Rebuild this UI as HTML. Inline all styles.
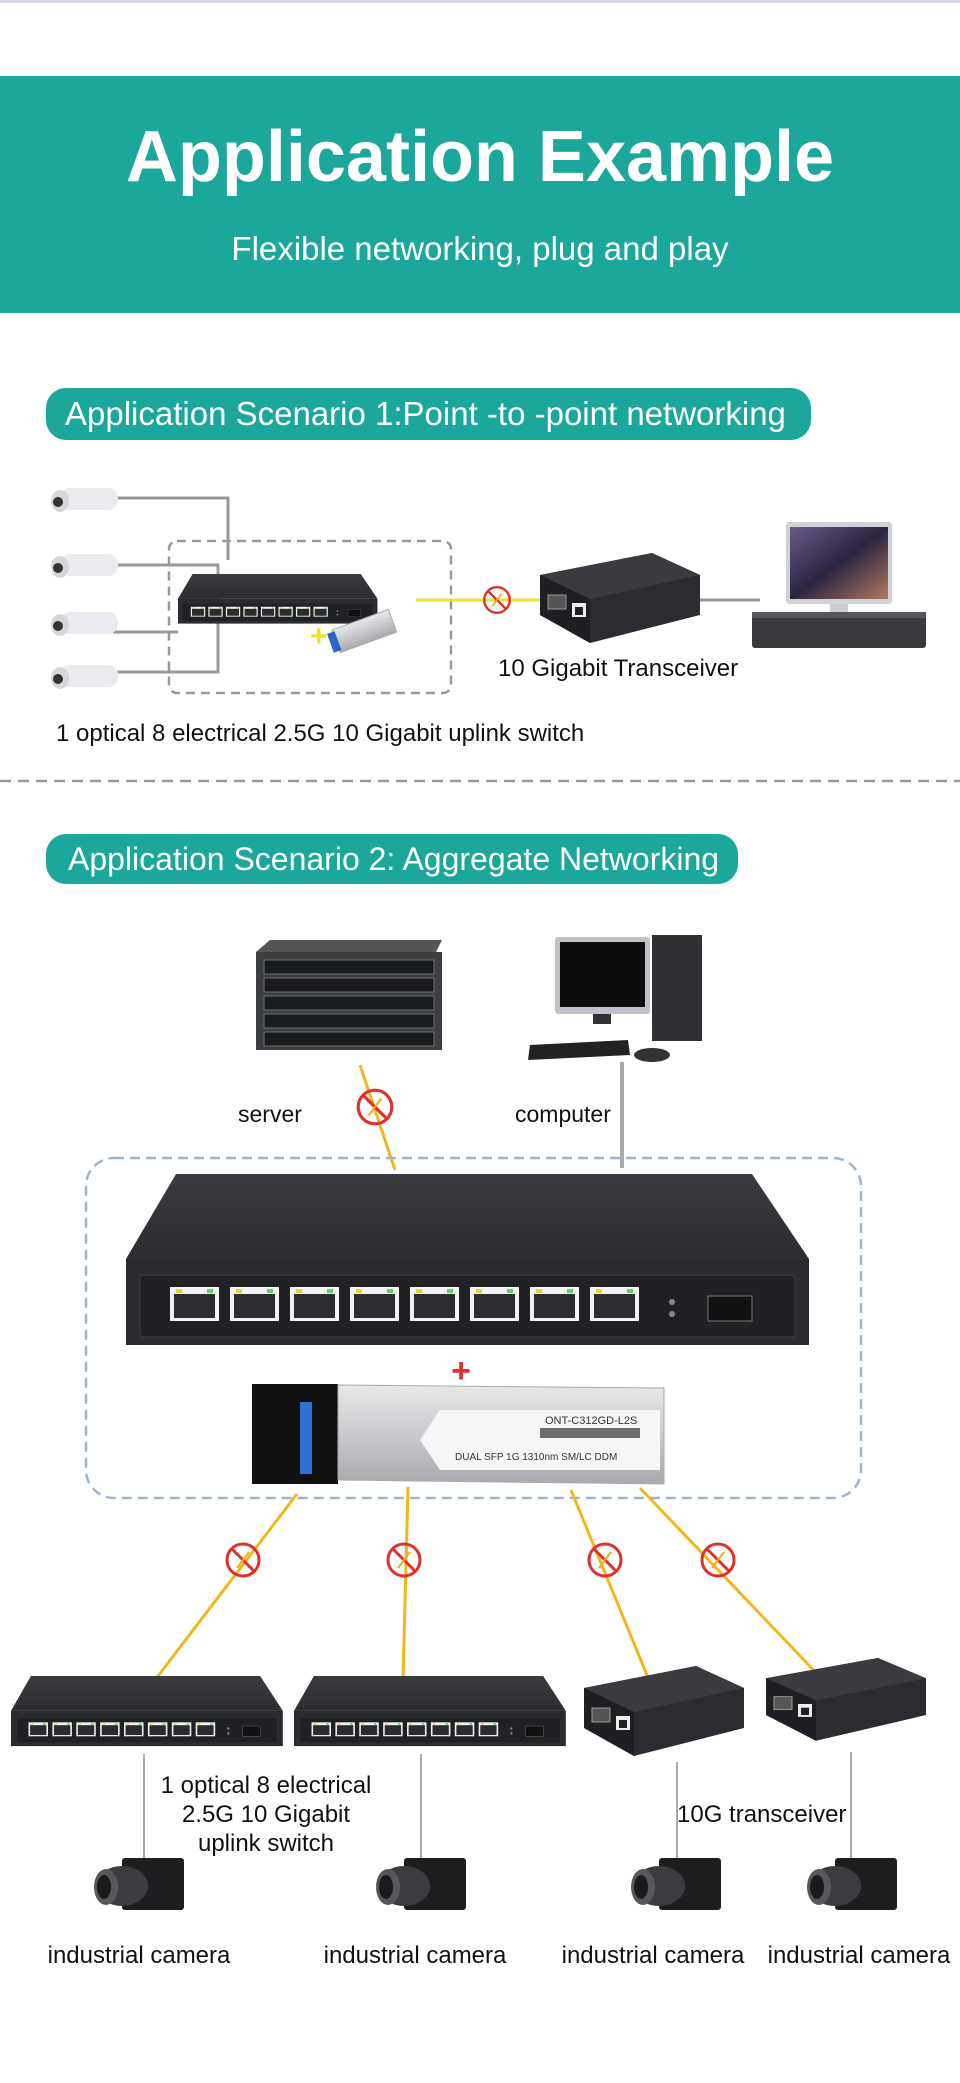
<!DOCTYPE html>
<html><head><meta charset="utf-8"><style>
html,body{margin:0;padding:0;background:#fff;}
body{width:960px;height:2083px;overflow:hidden;position:relative;font-family:"Liberation Sans",Arial,sans-serif;}
svg{position:absolute;left:0;top:0;}
</style></head><body>
<svg width="960" height="2083" viewBox="0 0 960 2083" xmlns="http://www.w3.org/2000/svg" font-family="Liberation Sans, Arial, sans-serif">
<defs>
<linearGradient id="topg" x1="0" y1="0" x2="0" y2="1"><stop offset="0" stop-color="#3a3b3e"/><stop offset="1" stop-color="#2c2d30"/></linearGradient>
<linearGradient id="scr" x1="0" y1="0" x2="1" y2="1"><stop offset="0" stop-color="#6a5a8a"/><stop offset="0.5" stop-color="#2a2440"/><stop offset="1" stop-color="#b07a60"/></linearGradient>
<linearGradient id="sfpg" x1="0" y1="0" x2="0" y2="1"><stop offset="0" stop-color="#e8e8ea"/><stop offset="0.5" stop-color="#c9cacd"/><stop offset="1" stop-color="#a9aaad"/></linearGradient>
<g id="sw">
  <polygon points="50,0 626,0 683,85 0,85" fill="url(#topg)"/>
  <rect x="0" y="85" width="683" height="86" fill="#2a2b2e"/>
  <rect x="14" y="101" width="655" height="62" rx="3" fill="#202124" stroke="#3c3d40"/>
  <g fill="#f2f2f2">
    <rect x="44" y="113" width="49" height="34"/><rect x="104" y="113" width="49" height="34"/><rect x="164" y="113" width="49" height="34"/><rect x="224" y="113" width="49" height="34"/>
    <rect x="284" y="113" width="49" height="34"/><rect x="344" y="113" width="49" height="34"/><rect x="404" y="113" width="49" height="34"/><rect x="464" y="113" width="49" height="34"/>
  </g>
  <g fill="#2b2c2f">
    <rect x="48" y="120" width="41" height="24"/><rect x="108" y="120" width="41" height="24"/><rect x="168" y="120" width="41" height="24"/><rect x="228" y="120" width="41" height="24"/>
    <rect x="288" y="120" width="41" height="24"/><rect x="348" y="120" width="41" height="24"/><rect x="408" y="120" width="41" height="24"/><rect x="468" y="120" width="41" height="24"/>
  </g>
  <g fill="#e8d23a"><rect x="50" y="115" width="6" height="4"/><rect x="110" y="115" width="6" height="4"/><rect x="170" y="115" width="6" height="4"/><rect x="230" y="115" width="6" height="4"/><rect x="290" y="115" width="6" height="4"/><rect x="350" y="115" width="6" height="4"/><rect x="410" y="115" width="6" height="4"/><rect x="470" y="115" width="6" height="4"/></g>
  <g fill="#5fd36a"><rect x="81" y="115" width="6" height="4"/><rect x="141" y="115" width="6" height="4"/><rect x="201" y="115" width="6" height="4"/><rect x="261" y="115" width="6" height="4"/><rect x="321" y="115" width="6" height="4"/><rect x="381" y="115" width="6" height="4"/><rect x="441" y="115" width="6" height="4"/><rect x="501" y="115" width="6" height="4"/></g>
  <circle cx="546" cy="128" r="3" fill="#888"/><circle cx="546" cy="140" r="3" fill="#888"/>
  <rect x="582" y="122" width="44" height="25" fill="#111" stroke="#777"/>
</g>
<g id="mc">
  <polygon points="0,22 112,0 160,22 160,62 50,90 0,62" fill="#2b2c2f"/>
  <polygon points="0,22 112,0 160,22 50,46" fill="#3a3b3f"/>
  <polygon points="0,22 50,46 50,90 0,62" fill="#1e1f22"/>
  <rect x="8" y="42" width="18" height="14" fill="#555" stroke="#999"/>
  <rect x="32" y="50" width="14" height="14" fill="#eee"/>
  <rect x="35" y="54" width="8" height="8" fill="#222"/>
</g>
<g id="cam">
  <rect x="28" y="0" width="62" height="52" rx="3" fill="#1d1e20"/>
  <ellipse cx="28" cy="28" rx="26" ry="20" fill="#3b3c3f"/>
  <ellipse cx="12" cy="29" rx="12" ry="18" fill="#55575a"/>
  <ellipse cx="10" cy="29" rx="7" ry="12" fill="#1a1a1a"/>
</g>
<g id="no">
  <circle cx="0" cy="0" r="16" fill="none" stroke="#e0302a" stroke-width="3"/>
  <line x1="-11" y1="-11" x2="11" y2="11" stroke="#e0302a" stroke-width="3"/>
  <line x1="-6" y1="8" x2="6" y2="-8" stroke="#e8b020" stroke-width="2"/>
</g>
<g id="ipc">
  <rect x="10" y="0" width="58" height="22" rx="10" fill="#e9ebee"/>
  <ellipse cx="10" cy="13" rx="9" ry="11" fill="#d5d7da"/>
  <circle cx="8" cy="14" r="5" fill="#333"/>
</g>
</defs>

<rect x="0" y="0" width="960" height="3" fill="#d4d8e0"/>
<rect x="0" y="76" width="960" height="237" fill="#1ca79d"/>
<text x="480" y="181" text-anchor="middle" font-size="72" font-weight="bold" fill="#fff">Application Example</text>
<text x="480" y="260" text-anchor="middle" font-size="33" fill="#fff">Flexible networking, plug and play</text>

<rect x="46" y="388" width="765" height="52" rx="20" fill="#1ca79d"/>
<text x="65" y="425" font-size="33" fill="#fff">Application Scenario 1:Point -to -point networking</text>

<g stroke="#999" stroke-width="3" fill="none">
  <polyline points="113,498 228,498 228,560"/>
  <polyline points="113,565 218,565 218,600 178,600"/>
  <polyline points="113,632 178,632"/>
  <polyline points="113,672 218,672 218,620"/>
</g>
<rect x="169" y="541" width="282" height="152" rx="8" fill="none" stroke="#999" stroke-width="2.5" stroke-dasharray="9,6"/>
<use href="#ipc" x="50" y="488"/>
<use href="#ipc" x="50" y="554"/>
<use href="#ipc" x="50" y="612"/>
<use href="#ipc" x="50" y="665"/>
<use href="#sw" transform="translate(178,574) scale(0.292,0.29)"/>
<g transform="translate(332,630) rotate(-20)">
  <rect x="0" y="0" width="60" height="24" fill="url(#sfpg)" stroke="#aaa"/>
  <rect x="-6" y="2" width="8" height="20" fill="#2a66c8"/>
</g>
<text x="310" y="646" font-size="30" fill="#f2e020" font-weight="bold">+</text>
<line x1="416" y1="600" x2="540" y2="600" stroke="#f0e030" stroke-width="3"/>
<use href="#no" transform="translate(497,600) scale(0.8)"/>
<line x1="690" y1="600" x2="760" y2="600" stroke="#999" stroke-width="3"/>
<use href="#mc" transform="translate(540,553)"/>
<rect x="786" y="522" width="106" height="82" rx="3" fill="#cfd2d6"/>
<rect x="790" y="527" width="98" height="72" fill="url(#scr)"/>
<rect x="830" y="604" width="18" height="10" fill="#ccc"/>
<rect x="752" y="612" width="174" height="36" rx="3" fill="#3a3b3e"/>
<rect x="752" y="612" width="174" height="6" fill="#55575b"/>
<text x="498" y="676" font-size="24" fill="#111">10 Gigabit Transceiver</text>
<text x="56" y="741" font-size="24" fill="#111">1 optical 8 electrical 2.5G 10 Gigabit uplink switch</text>

<line x1="0" y1="781" x2="960" y2="781" stroke="#999" stroke-width="2.5" stroke-dasharray="11,7"/>

<rect x="46" y="834" width="692" height="50" rx="20" fill="#1ca79d"/>
<text x="68" y="870" font-size="32" fill="#fff">Application Scenario 2: Aggregate Networking</text>

<polygon points="270,940 442,940 436,952 256,952" fill="#555"/>
<rect x="256" y="952" width="186" height="98" fill="#3c3e42"/>
<g fill="#1a1b1d" stroke="#6a6d72">
  <rect x="264" y="960" width="170" height="14"/><rect x="264" y="978" width="170" height="14"/><rect x="264" y="996" width="170" height="14"/><rect x="264" y="1014" width="170" height="14"/><rect x="264" y="1032" width="170" height="14"/>
</g>
<rect x="555" y="937" width="95" height="77" rx="3" fill="#bfc2c6"/>
<rect x="560" y="942" width="85" height="65" fill="#0d0d0e"/>
<rect x="593" y="1014" width="18" height="10" fill="#333"/>
<rect x="652" y="935" width="50" height="106" fill="#2f3033"/>
<polygon points="530,1045 628,1040 630,1055 528,1060" fill="#222"/>
<ellipse cx="652" cy="1055" rx="18" ry="7" fill="#333"/>
<text x="238" y="1122" font-size="23" fill="#111">server</text>
<text x="515" y="1122" font-size="23" fill="#111">computer</text>
<line x1="360" y1="1065" x2="395" y2="1170" stroke="#f0b81c" stroke-width="3"/>
<use href="#no" transform="translate(375,1107) scale(1.05)"/>
<line x1="622" y1="1062" x2="622" y2="1168" stroke="#aaa" stroke-width="4"/>

<rect x="86" y="1158" width="775" height="340" rx="28" fill="none" stroke="#9fb4d4" stroke-width="2.5" stroke-dasharray="10,6"/>
<use href="#sw" transform="translate(126,1174)"/>
<text x="461" y="1382" text-anchor="middle" font-size="34" font-weight="bold" fill="#e0302a">+</text>
<rect x="252" y="1384" width="86" height="100" fill="#111"/>
<rect x="300" y="1402" width="12" height="72" fill="#2f72d4"/>
<polygon points="338,1385 664,1388 664,1484 338,1480" fill="url(#sfpg)" stroke="#aaa"/>
<polygon points="440,1410 660,1410 660,1470 440,1470 420,1440" fill="#f6f6f6"/>
<text x="545" y="1424" font-size="11" fill="#333">ONT-C312GD-L2S</text>
<rect x="540" y="1428" width="100" height="10" fill="#333" opacity="0.7"/>
<text x="455" y="1460" font-size="10" fill="#333">DUAL SFP   1G 1310nm SM/LC DDM</text>

<g stroke="#f0b81c" stroke-width="3">
  <line x1="297" y1="1494" x2="155" y2="1680"/>
  <line x1="408" y1="1487" x2="403" y2="1680"/>
  <line x1="571" y1="1490" x2="649" y2="1680"/>
  <line x1="640" y1="1488" x2="823" y2="1680"/>
</g>
<use href="#no" x="243" y="1560"/>
<use href="#no" x="404" y="1560"/>
<use href="#no" x="605" y="1560"/>
<use href="#no" x="718" y="1560"/>

<use href="#sw" transform="translate(11,1676) scale(0.398,0.41)"/>
<use href="#sw" transform="translate(294,1676) scale(0.398,0.41)"/>
<use href="#mc" transform="translate(584,1666)"/>
<use href="#mc" transform="translate(766,1658) scale(1.0,0.92)"/>

<g stroke="#aaa" stroke-width="2">
  <line x1="144" y1="1754" x2="144" y2="1860"/>
  <line x1="421" y1="1754" x2="421" y2="1860"/>
  <line x1="677" y1="1762" x2="677" y2="1860"/>
  <line x1="851" y1="1752" x2="851" y2="1860"/>
</g>
<text x="266" y="1793" text-anchor="middle" font-size="24" fill="#111">1 optical 8 electrical</text>
<text x="266" y="1822" text-anchor="middle" font-size="24" fill="#111">2.5G 10 Gigabit</text>
<text x="266" y="1851" text-anchor="middle" font-size="24" fill="#111">uplink switch</text>
<text x="677" y="1822" font-size="24" fill="#111">10G transceiver</text>

<use href="#cam" x="94" y="1858"/>
<use href="#cam" x="376" y="1858"/>
<use href="#cam" x="631" y="1858"/>
<use href="#cam" x="807" y="1858"/>

<g font-size="24" fill="#111" text-anchor="middle">
  <text x="139" y="1963">industrial camera</text>
  <text x="415" y="1963">industrial camera</text>
  <text x="653" y="1963">industrial camera</text>
  <text x="859" y="1963">industrial camera</text>
</g>
</svg>
</body></html>
